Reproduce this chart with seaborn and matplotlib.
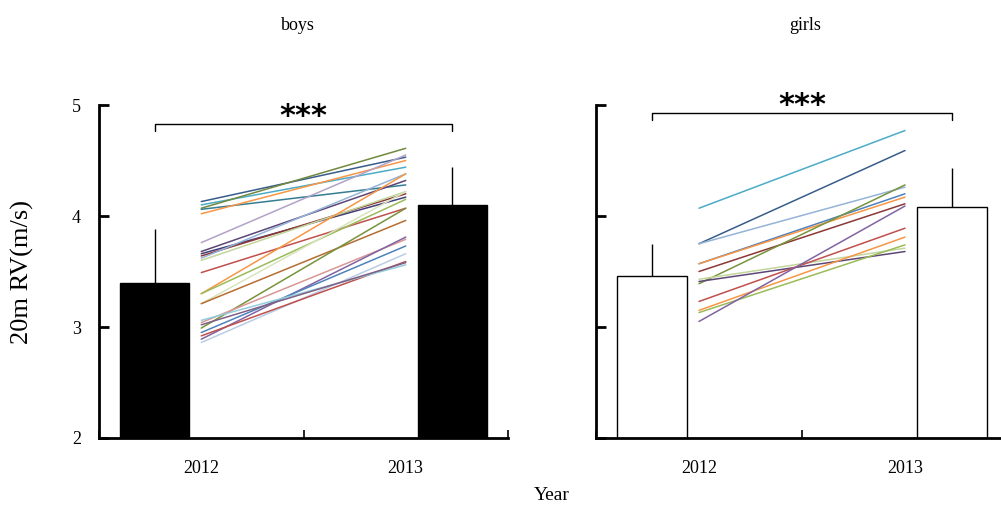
import matplotlib
matplotlib.use("Agg")
import matplotlib.pyplot as plt
import seaborn as sns
import numpy as np
import pandas as pd

# bar means and (upper) SD
years = ["2012", "2013"]
boys_mean = [3.40, 4.10]
boys_sd = [0.48, 0.34]
girls_mean = [3.46, 4.08]
girls_sd = [0.29, 0.35]

# individual boys, 2012 -> 2013
boys_2012 = [4.13, 4.10, 4.07, 4.06, 4.02, 3.76, 3.68, 3.66, 3.64, 3.62, 3.60, 3.49,
             3.30, 3.30, 3.21, 3.21, 2.99, 3.04, 2.89, 2.95, 2.86, 2.92, 3.06, 3.02]
boys_2013 = [4.53, 4.44, 4.61, 4.28, 4.50, 4.55, 4.32, 4.17, 4.20, 4.38, 4.22, 4.07,
             4.38, 4.15, 4.22, 3.96, 4.07, 3.79, 3.81, 3.73, 3.66, 3.59, 3.56, 3.58]
boys_colors = ["#385D8A", "#4BACC6", "#71893F", "#357D91", "#F79646", "#B3A2C7",
               "#5C4776", "#403F7A", "#8C3836", "#95B3D7", "#C3D69B", "#C0504D",
               "#F79646", "#9BBB59", "#D7E4BD", "#B66D31", "#77933C", "#D99694",
               "#8064A2", "#4F81BD", "#B9CDE5", "#C0504D", "#93CDDD", "#7F6084"]

# individual girls
girls_2012 = [4.07, 3.75, 3.75, 3.57, 3.57, 3.50, 3.39, 3.43, 3.41, 3.23, 3.15, 3.13, 3.05]
girls_2013 = [4.77, 4.59, 4.26, 4.20, 4.17, 4.11, 4.28, 3.71, 3.68, 3.89, 3.81, 3.74, 4.09]
girls_colors = ["#4BACC6", "#385D8A", "#95B3D7", "#4F81BD", "#F79646", "#8C3836",
                "#77933C", "#C3D69B", "#5C4776", "#C0504D", "#F79646", "#9BBB59",
                "#8064A2"]

sns.set_style("ticks")
plt.rcParams["font.family"] = ["Liberation Serif", "DejaVu Serif"]
plt.rcParams["text.color"] = "black"
plt.rcParams["xtick.color"] = "black"
plt.rcParams["ytick.color"] = "black"


def long_form(v12, v13):
    rows = []
    for i, (a, b) in enumerate(zip(v12, v13)):
        rows.append({"id": i, "pos": 0, "value": a})
        rows.append({"id": i, "pos": 1, "value": b})
    return pd.DataFrame(rows)


def draw_panel(ax, means, sds, v12, v13, colors, face, star_y, bracket_y):
    off, width = 0.228, 0.34
    xb = [0 - off, 1 + off]
    ax.bar(xb, means, width=width, color=face, edgecolor="black", linewidth=1.0,
           zorder=2)
    ax.errorbar(xb, means, yerr=[[0, 0], sds], fmt="none", ecolor="black",
                elinewidth=1.0, capsize=0, zorder=3)
    df = long_form(v12, v13)
    sns.lineplot(data=df, x="pos", y="value", hue="id", palette=colors,
                 estimator=None, legend=False, linewidth=1.1, ax=ax, zorder=4)
    # significance bracket
    ax.plot([xb[0], xb[0], xb[1], xb[1]],
            [bracket_y - 0.065, bracket_y, bracket_y, bracket_y - 0.065],
            color="black", linewidth=1.0, clip_on=False)
    ax.text(0.5, star_y, "***", ha="center", va="center", fontsize=22,
            fontweight="bold", family="DejaVu Sans", color="black", clip_on=False)

    ax.set_xlim(-0.5, 1.5)
    ax.set_ylim(2, 5)
    ax.set_xticks([0, 1])
    ax.set_xticklabels(years)
    ax.set_xticks([-0.5, 0.5, 1.5], minor=True)
    ax.tick_params(axis="x", which="major", length=0, pad=16, labelsize=13,
                   labelcolor="black")
    ax.tick_params(axis="x", which="minor", direction="in", length=6, width=1.2,
                   color="black")
    ax.set_yticks([2, 3, 4, 5])
    ax.tick_params(axis="y", direction="in", length=7, width=2, color="black",
                   pad=13, labelsize=13, labelcolor="black")
    ax.set_xlabel("")
    ax.set_ylabel("")
    for s in ["top", "right"]:
        ax.spines[s].set_visible(False)
    for s in ["left", "bottom"]:
        ax.spines[s].set_linewidth(2)
        ax.spines[s].set_color("black")


fig = plt.figure(figsize=(10.01, 5.08), dpi=100)
ax1 = fig.add_axes([99 / 1001, 70 / 508, 409 / 1001, 333 / 508])
ax2 = fig.add_axes([596 / 1001, 70 / 508, 412 / 1001, 333 / 508])

draw_panel(ax1, boys_mean, boys_sd, boys_2012, boys_2013, boys_colors, "black",
           4.90, 4.83)
draw_panel(ax2, girls_mean, girls_sd, girls_2012, girls_2013, girls_colors, "white",
           5.00, 4.93)
ax2.set_yticklabels([])

fig.text(298 / 1001, 1 - 25 / 508, "boys", ha="center", va="center", fontsize=13)
fig.text(805 / 1001, 1 - 25 / 508, "girls", ha="center", va="center", fontsize=13)
fig.text(552 / 1001, 1 - 496 / 508, "Year", ha="center", va="center", fontsize=14)
fig.text(22 / 1001, 1 - 272 / 508, "20m RV(m/s)", ha="center", va="center",
         rotation=90, fontsize=19)

fig.savefig("out.png", dpi=100)
